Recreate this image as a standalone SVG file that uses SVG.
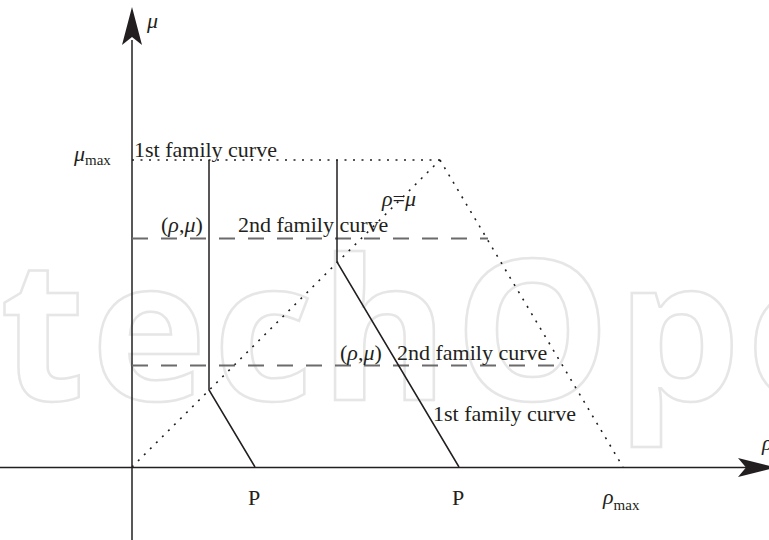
<svg xmlns="http://www.w3.org/2000/svg" width="769" height="540" viewBox="0 0 769 540">
<style>
.wm{font-family:"Open Sans","DejaVu Sans",sans-serif;font-size:196px;font-weight:bold;letter-spacing:6px;fill:none;stroke:#e6e6e6;stroke-width:2.5}
.t{font-family:"Liberation Serif","Times New Roman",serif;font-size:22px;fill:#231f20}
.i{font-style:italic}
.sub{font-size:15px}
.ax{stroke:#231f20;stroke-width:1.5;fill:none}
.sol{stroke:#231f20;stroke-width:1.5;fill:none}
.dash{stroke:#6b6b6b;stroke-width:2;stroke-dasharray:16 13;fill:none}
.dot{stroke:#231f20;stroke-width:1.6;stroke-dasharray:2 6.5;fill:none}
</style>
<rect width="769" height="540" fill="#ffffff"/>
<text class="wm" x="0" y="400">techOpe</text>
<g id="connectors">
<line class="ax" x1="0" y1="467.5" x2="750" y2="467.5"/>
<line class="ax" x1="132" y1="540" x2="132" y2="40"/>
<polygon points="132,7 142,45 132,37 122,45" fill="#231f20"/>
<polygon points="776,467.5 738,477 746,467.5 738,458" fill="#231f20"/>
<line class="dot" x1="132" y1="160" x2="440" y2="160"/>
<line class="dot" x1="132" y1="467" x2="440" y2="160"/>
<line class="dot" x1="440" y1="160" x2="623" y2="467"/>
<line class="dash" x1="132" y1="238.5" x2="488" y2="238.5"/>
<line class="dash" x1="132" y1="365.5" x2="562" y2="365.5"/>
<polyline class="sol" points="209,160 209,390 255,467"/>
<polyline class="sol" points="337,160 337,262 459,467"/>
</g>
<g id="labels">
<text class="t i" x="147" y="28">μ</text>
<text class="t" x="74" y="161"><tspan class="i">μ</tspan><tspan class="sub" dy="4">max</tspan></text>
<text class="t" x="134" y="157">1st family curve</text>
<text class="t" x="161" y="232">(<tspan class="i">ρ</tspan>,<tspan class="i">μ</tspan>)</text>
<text class="t" x="238" y="232">2nd family curve</text>
<text class="t" x="382" y="206"><tspan class="i">ρ</tspan>=<tspan class="i">μ</tspan></text>
<text class="t" x="340" y="360">(<tspan class="i">ρ</tspan>,<tspan class="i">μ</tspan>)</text>
<text class="t" x="397" y="360">2nd family curve</text>
<text class="t" x="433" y="421">1st family curve</text>
<text class="t" x="248" y="505">P</text>
<text class="t" x="452" y="505">P</text>
<text class="t" x="603" y="504"><tspan class="i">ρ</tspan><tspan class="sub" dy="6">max</tspan></text>
<text class="t i" x="762" y="450">ρ</text>
</g>
</svg>
